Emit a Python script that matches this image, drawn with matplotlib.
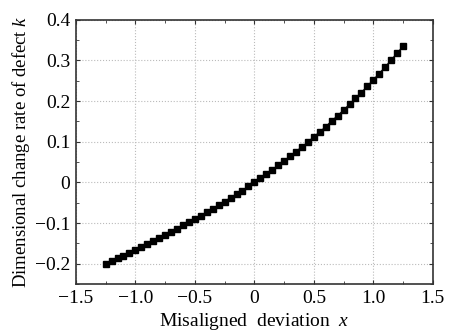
import matplotlib
matplotlib.use("Agg")
import matplotlib.pyplot as plt
from matplotlib.ticker import MultipleLocator, FuncFormatter

# misaligned deviation x and dimensional change rate of defect k
x_vals = [-1.25, -1.20, -1.15, -1.10, -1.05, -1.00, -0.95, -0.90, -0.85, -0.80,
          -0.75, -0.70, -0.65, -0.60, -0.55, -0.50, -0.45, -0.40, -0.35, -0.30,
          -0.25, -0.20, -0.15, -0.10, -0.05, 0.00, 0.05, 0.10, 0.15, 0.20,
          0.25, 0.30, 0.35, 0.40, 0.45, 0.50, 0.55, 0.60, 0.65, 0.70,
          0.75, 0.80, 0.85, 0.90, 0.95, 1.00, 1.05, 1.10, 1.15, 1.20, 1.25]
k_vals = [-0.201, -0.194, -0.187, -0.180, -0.173, -0.166, -0.159, -0.152, -0.144, -0.137,
          -0.130, -0.122, -0.114, -0.106, -0.098, -0.090, -0.082, -0.074, -0.065, -0.056,
          -0.047, -0.038, -0.029, -0.020, -0.010, 0.000, 0.010, 0.020, 0.031, 0.042,
          0.053, 0.064, 0.076, 0.087, 0.099, 0.112, 0.124, 0.137, 0.151, 0.164,
          0.178, 0.192, 0.207, 0.221, 0.237, 0.252, 0.268, 0.284, 0.301, 0.318, 0.335]

x_ticks = [-1.5, -1.0, -0.5, 0, 0.5, 1.0, 1.5]
y_ticks = [-0.2, -0.1, 0, 0.1, 0.2, 0.3, 0.4]

plt.rcParams['font.family'] = 'Liberation Serif'
plt.rcParams['mathtext.fontset'] = 'custom'
plt.rcParams['mathtext.rm'] = 'Liberation Serif'
plt.rcParams['mathtext.it'] = 'Liberation Serif:italic'


def fmt(v, pos):
    if abs(v) < 1e-9:
        return '0'
    s = '%.1f' % abs(v)
    return ('\u2212' + s) if v < 0 else s


fig = plt.figure(figsize=(4.49, 3.31), dpi=100)
ax = fig.add_axes([0.169, 0.142, 0.795, 0.798])

ax.plot(x_vals, k_vals, '-', color='black', linewidth=1.0,
        marker='s', markersize=3.7, markerfacecolor='black', markeredgecolor='black')

ax.set_xlim(-1.5, 1.5)
ax.set_ylim(-0.25, 0.4)
ax.set_xticks(x_ticks)
ax.set_yticks(y_ticks)
ax.xaxis.set_minor_locator(MultipleLocator(0.25))
ax.yaxis.set_minor_locator(MultipleLocator(0.05))
ax.xaxis.set_major_formatter(FuncFormatter(fmt))
ax.yaxis.set_major_formatter(FuncFormatter(fmt))

ax.tick_params(which='both', direction='in', top=True, right=True,
               labelsize=14, color='#333333')
ax.tick_params(which='major', length=3, pad=4)
ax.tick_params(which='minor', length=2)
ax.grid(True, which='major', linestyle=':', color='#bbbbbb', linewidth=0.8)

for sp in ax.spines.values():
    sp.set_color('#333333')
    sp.set_linewidth(1.2)

ax.set_xlabel('Misaligned  deviation  $x$', fontsize=14, labelpad=3)
ax.set_ylabel('Dimensional change rate of defect $k$', fontsize=13.5, labelpad=2)

fig.savefig('out.png', dpi=100)
